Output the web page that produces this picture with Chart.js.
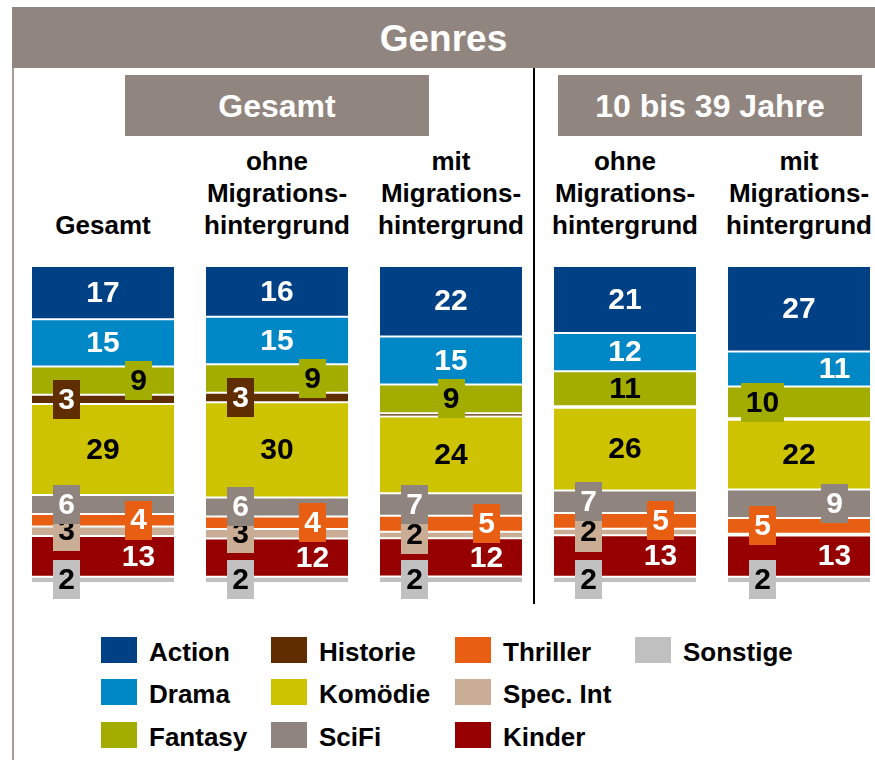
<!DOCTYPE html>
<html lang="de">
<head>
  <meta charset="UTF-8" />
  <title>Genres</title>
  <script src="https://cdn.jsdelivr.net/npm/chart.js"></script>
  <style>
    html, body {
      margin: 0;
      padding: 0;
      background: #fff;
      overflow: hidden;
      width: 875px;
      height: 760px;
    }
    body {
      position: relative;
      font-family: 'Liberation Sans', Arial, sans-serif;
      font-weight: bold;
      color: #000;
    }
    .band {
      position: absolute;
      left: 12px; top: 7px;
      width: 863px; height: 61px;
      background: #918580;
      color: #fff;
      font-size: 37px;
      line-height: 63px;
      text-align: center;
    }
    .frame {
      position: absolute;
      left: 12px; top: 68px;
      width: 2px; height: 692px;
      background: #a59c97;
    }
    .divider {
      position: absolute;
      left: 533px; top: 68px;
      width: 2px; height: 536px;
      background: #000;
    }
    .box {
      position: absolute;
      top: 75px; height: 61px;
      width: 304px;
      line-height: 63px;
      background: #918580;
      color: #fff;
      font-size: 32px;
      text-align: center;
    }
    .col {
      position: absolute;
      bottom: 519px;
      width: 174px;
      text-align: center;
      font-size: 26px;
      line-height: 32px;
    }
    .chartwrap {
      position: absolute;
      left: 16px; top: 240px;
    }
    .legend-item {
      position: absolute;
      height: 26px;
      font-size: 26px;
      line-height: 31px;
      white-space: nowrap;
    }
    .legend-item .sw {
      position: absolute;
      left: 0; top: 0;
      width: 36px; height: 26px;
    }
    .legend-item .lb {
      position: absolute;
      left: 48px; top: 0;
    }
  </style>
</head>
<body>
  <div class="band">Genres</div>
  <div class="frame"></div>
  <div class="divider"></div>
  <div class="box" style="left:125px;">Gesamt</div>
  <div class="box" style="left:558px;">10 bis 39 Jahre</div>

  <div id="cols"></div>

  <div class="chartwrap">
    <canvas id="chartGenres" width="870" height="380"></canvas>
  </div>

  <div id="legend"></div>

  <script>
    // Gruppen (Spalten)
    const groupLines = [
      ['Gesamt'],
      ['ohne', 'Migrations-', 'hintergrund'],
      ['mit', 'Migrations-', 'hintergrund'],
      ['ohne', 'Migrations-', 'hintergrund'],
      ['mit', 'Migrations-', 'hintergrund']
    ];

    // Anteile in % je Genre (von oben nach unten im Balken)
    const action   = [17, 16, 22, 21, 27];
    const drama    = [15, 15, 15, 12, 11];
    const fantasy  = [9, 9, 9, 11, 10];
    const historie = [3, 3, 1, 0.5, 0.5];
    const komoedie = [29, 30, 24, 26, 22];
    const scifi    = [6, 6, 7, 7, 9];
    const thriller = [4, 4, 5, 5, 5];
    const specInt  = [3, 3, 2, 2, 0.5];
    const kinder   = [13, 12, 12, 13, 13];
    const sonstige = [2, 2, 2, 2, 2];

    const genreNames = ['Action', 'Drama', 'Fantasy', 'Historie', 'Komödie',
                        'SciFi', 'Thriller', 'Spec. Int', 'Kinder', 'Sonstige'];
    const genreValues = [action, drama, fantasy, historie, komoedie,
                         scifi, thriller, specInt, kinder, sonstige];
    const genreColors = ['#004185', '#0087c6', '#a2ad00', '#5f2d00', '#cec300',
                         '#90847f', '#e85e12', '#c9ae95', '#960000', '#c0c0c0'];
    const textColors  = ['#fff', '#fff', '#000', '#fff', '#000',
                         '#fff', '#fff', '#000', '#fff', '#000'];

    // Wo die Zahl steht: c = Mitte, C = Mitte mit Kasten, L/R = Kasten links/rechts, r = rechts ohne Kasten
    const labelPlace = [
      ['c', 'c', 'c', 'c', 'c'],
      ['c', 'c', 'c', 'c', 'r'],
      ['R', 'R', 'C', 'c', 'L'],
      ['L', 'L', null, null, null],
      ['c', 'c', 'c', 'c', 'c'],
      ['L', 'L', 'L', 'L', 'R'],
      ['R', 'R', 'R', 'R', 'L'],
      ['L', 'L', 'L', 'L', null],
      ['r', 'r', 'r', 'r', 'r'],
      ['L', 'L', 'L', 'L', 'L']
    ];

    // Spaltenüberschriften
    const colsDiv = document.getElementById('cols');
    groupLines.forEach((lines, i) => {
      const d = document.createElement('div');
      d.className = 'col';
      d.style.left = (16 + i * 174) + 'px';
      d.innerHTML = lines.join('<br>');
      colsDiv.appendChild(d);
    });

    // Legende (spaltenweise, 3 Zeilen)
    const legendX = [101, 271, 455, 635];
    const legendY = [637, 679, 722];
    const legendDiv = document.getElementById('legend');
    genreNames.forEach((name, i) => {
      const item = document.createElement('div');
      item.className = 'legend-item';
      item.style.left = legendX[Math.floor(i / 3)] + 'px';
      item.style.top = legendY[i % 3] + 'px';
      item.innerHTML = `<span class="sw" style="background:${genreColors[i]}"></span><span class="lb">${name}</span>`;
      legendDiv.appendChild(item);
    });

    // Summe je Balken, damit alle auf 100 % gehen
    const totals = groupLines.map((_, g) => genreValues.reduce((acc, arr) => acc + arr[g], 0));

    // Chart.js stapelt von unten, also umgekehrte Reihenfolge
    const datasets = genreNames.map((name, k) => ({
      label: name,
      data: genreValues[k].map((v, g) => v / totals[g] * 100),
      raw: genreValues[k],
      place: labelPlace[k],
      textColor: textColors[k],
      backgroundColor: genreColors[k],
      borderColor: '#fff',
      borderWidth: { top: 1, bottom: 1, left: 0, right: 0 },
      borderSkipped: false,
      inflateAmount: 0,
      barThickness: 142
    })).reverse();

    const segLabels = {
      id: 'segLabels',
      afterDatasetsDraw(chart) {
        const ctx = chart.ctx;
        ctx.save();
        ctx.font = 'bold 30px "Liberation Sans", Arial, sans-serif';
        ctx.textAlign = 'center';
        ctx.textBaseline = 'middle';
        chart.data.datasets.forEach((ds, di) => {
          const meta = chart.getDatasetMeta(di);
          meta.data.forEach((bar, i) => {
            const place = ds.place[i];
            if (!place) return;
            const left = bar.x - bar.width / 2;
            const y = (bar.y + bar.base) / 2;
            let x = bar.x;
            if (place === 'L') x = left + 34.5;
            if (place === 'R' || place === 'r') x = left + 106.5;
            const txt = String(ds.raw[i]);
            if (place === 'L' || place === 'R' || place === 'C') {
              const w = ctx.measureText(txt).width + 10;
              ctx.fillStyle = ds.backgroundColor;
              ctx.fillRect(Math.round(x - w / 2), Math.round(y - 19.5), Math.round(w), 39);
            }
            ctx.fillStyle = ds.textColor;
            ctx.fillText(txt, x, y + 1);
          });
        });
        ctx.restore();
      }
    };

    const ctxGenres = document.getElementById('chartGenres').getContext('2d');
    new Chart(ctxGenres, {
      type: 'bar',
      data: {
        labels: groupLines.map(l => l.join(' ')),
        datasets: datasets
      },
      options: {
        responsive: false,
        animation: false,
        layout: { padding: { top: 26, bottom: 37, left: 0, right: 0 } },
        plugins: {
          legend: { display: false },
          tooltip: { enabled: false }
        },
        scales: {
          x: { stacked: true, display: false },
          y: { stacked: true, display: false, min: 0, max: 100 }
        }
      },
      plugins: [segLabels]
    });
  </script>
</body>
</html>
